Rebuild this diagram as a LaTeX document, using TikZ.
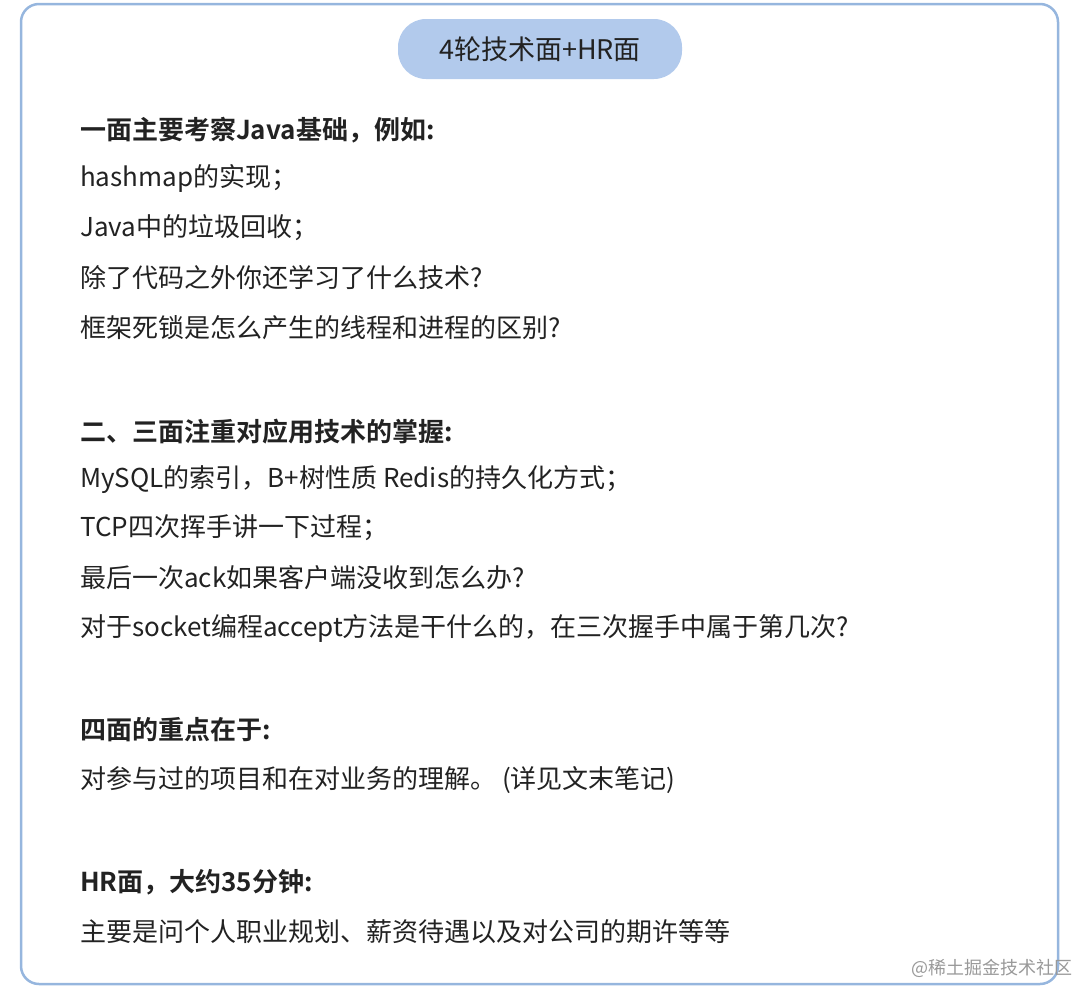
\documentclass[tikz,border=0pt]{standalone}
\usepackage{fontspec}
\setmainfont{Noto Sans CJK SC}[BoldFont={* Bold}]
\definecolor{frame}{RGB}{150,182,222}
\definecolor{pill}{RGB}{178,202,236}
\definecolor{txt}{RGB}{34,34,34}
\begin{document}
\begin{tikzpicture}[x=1pt,y=-1pt,
  line/.style={anchor=west,font=\fontsize{26}{30}\selectfont,text=txt,inner sep=0pt},
  head/.style={line,font=\fontsize{26}{30}\selectfont\bfseries}]
\useasboundingbox (0,0) rectangle (1080,988);
\draw[frame,line width=2.5pt,rounded corners=18pt] (21,4) rectangle (1058,984);
\node[fill=pill,rounded corners=28pt,minimum width=284pt,minimum height=60pt,font=\fontsize{27}{32}\selectfont,text=txt] (t) at (540,49) {4轮技术面+HR面};
\node[head] (a1) at (80,130) {一面主要考察Java基础，例如:};
\node[line] (a2) at (80,178) {hashmap的实现；};
\node[line] (a3) at (80,228) {Java中的垃圾回收；};
\node[line] (a4) at (80,278) {除了代码之外你还学习了什么技术?};
\node[line] (a5) at (80,328) {框架死锁是怎么产生的线程和进程的区别?};
\node[head] (b1) at (80,432) {二、三面注重对应用技术的掌握:};
\node[line] (b2) at (80,480) {MySQL的索引，B+树性质 Redis的持久化方式；};
\node[line] (b3) at (80,528) {TCP四次挥手讲一下过程；};
\node[line] (b4) at (80,578) {最后一次ack如果客户端没收到怎么办?};
\node[line] (b5) at (80,628) {对于socket编程accept方法是干什么的，在三次握手中属于第几次?};
\node[head] (c1) at (80,730) {四面的重点在于:};
\node[line] (c2) at (80,780) {对参与过的项目和在对业务的理解。 (详见文末笔记)};
\node[head] (d1) at (80,882) {HR面，大约35分钟:};
\node[line] (d2) at (80,932) {主要是问个人职业规划、薪资待遇以及对公司的期许等等};
\node[anchor=east,font=\fontsize{18}{21}\selectfont,text=black!40,inner sep=0pt] (w) at (1073,968) {@稀土掘金技术社区};
\end{tikzpicture}
\end{document}
